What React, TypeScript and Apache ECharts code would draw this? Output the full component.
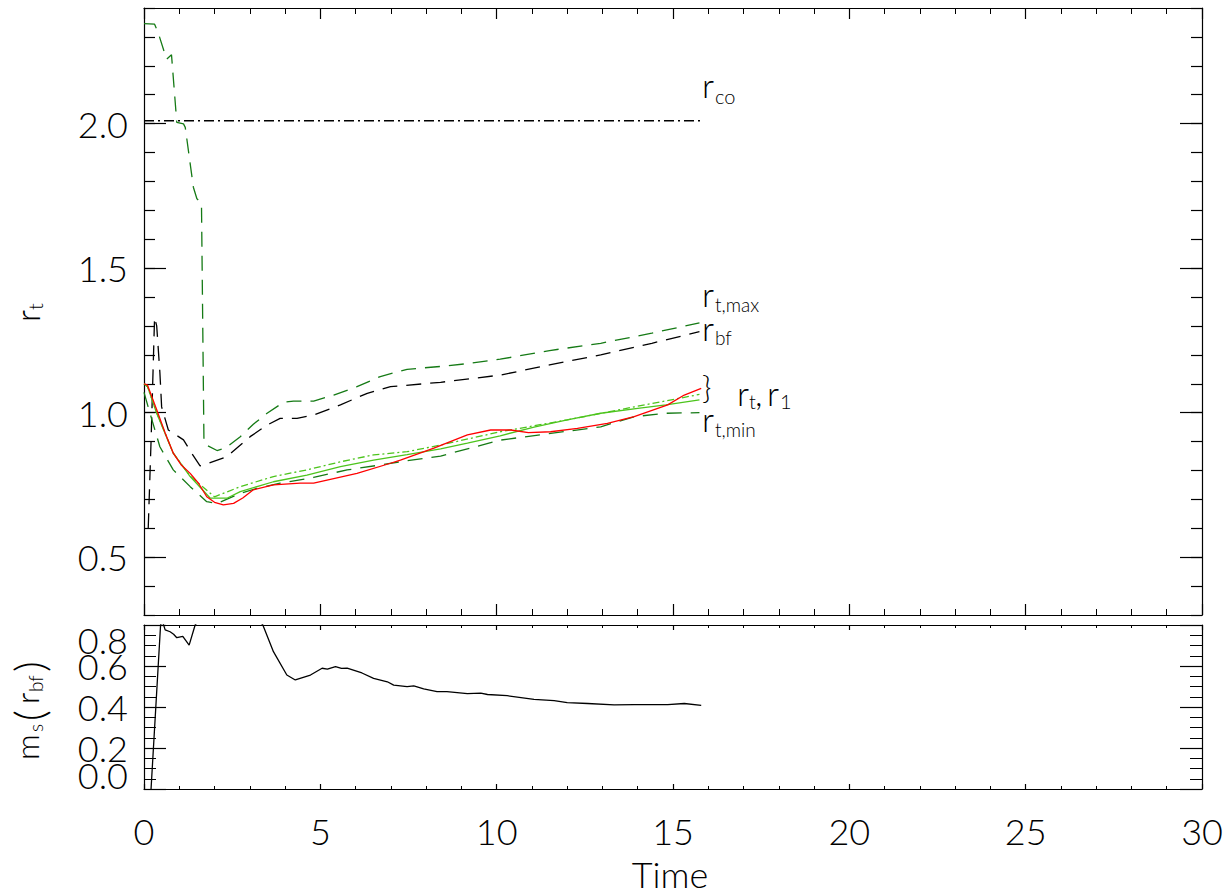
import React, { useEffect, useRef } from 'react';
import * as echarts from 'echarts';

// ---------- data ----------
const xTicks = [0, 5, 10, 15, 20, 25, 30];
const topMajorTicks = [0.5, 1.0, 1.5, 2.0];
const bottomInnerTicks = [0.2, 0.4, 0.6];
const bottomEndTicks = [0, 0.8];

// r_co (black dash-dot)
const tCo = [0, 15.8];
const rCo = [2.01, 2.01];

// r_t,max (dark green dashed)
const tMax = [0, 0.3, 0.4, 0.64, 0.78, 0.93, 1.12, 1.17, 1.4, 1.5, 1.6, 1.63, 1.7, 1.75, 2.07, 2.3, 2.73, 3.1, 3.49, 3.96, 4.24, 4.81, 5.38, 6.04, 6.7, 7.46, 8.41, 9.2, 10.1, 11.5, 12.95, 14.4, 15.75];
const rMax = [2.346, 2.344, 2.315, 2.223, 2.238, 2.004, 1.999, 1.987, 1.78, 1.74, 1.729, 1.72, 0.9, 0.889, 0.869, 0.877, 0.917, 0.96, 0.998, 1.036, 1.04, 1.04, 1.061, 1.09, 1.125, 1.15, 1.16, 1.17, 1.185, 1.215, 1.24, 1.275, 1.311];

// r_bf (black dashed)
const tBf = [0.12, 0.2, 0.3, 0.36, 0.45, 0.5, 0.69, 1.12, 1.35, 1.59, 1.78, 2.35, 3.01, 3.49, 3.86, 4.34, 4.81, 5.57, 6.33, 6.99, 8.41, 10.1, 11.5, 12.95, 14.4, 15.75];
const rBf = [0.6, 0.9, 1.33, 1.3, 1.14, 1.02, 0.94, 0.906, 0.86, 0.816, 0.823, 0.848, 0.917, 0.957, 0.98, 0.98, 0.992, 1.027, 1.067, 1.09, 1.105, 1.13, 1.165, 1.2, 1.24, 1.28];

// r_t,min (dark green dashed)
const tMin = [0, 0.17, 0.45, 0.83, 1.31, 1.78, 2.07, 2.73, 3.2, 3.86, 4.81, 5.76, 6.7, 7.46, 8.41, 10.1, 12.95, 13.9, 14.8, 15.75];
const rMin = [1.07, 0.998, 0.882, 0.802, 0.744, 0.692, 0.686, 0.721, 0.738, 0.756, 0.776, 0.802, 0.819, 0.834, 0.85, 0.905, 0.951, 0.986, 0.998, 1.0];

// r_t (light green solid)
const tRt = [0, 0.1, 0.36, 0.83, 1.31, 1.88, 2.35, 2.73, 3.67, 4.62, 5.57, 6.51, 7.46, 8.41, 9.17, 10.1, 11.06, 12.0, 12.95, 14.0, 14.8, 15.75];
const rRt = [1.1, 1.09, 0.998, 0.86, 0.779, 0.704, 0.704, 0.727, 0.761, 0.784, 0.813, 0.836, 0.855, 0.875, 0.895, 0.92, 0.95, 0.975, 0.998, 1.015, 1.027, 1.044];

// r_1 (light green dash-dot)
const tR1 = [0, 0.1, 0.36, 0.83, 1.31, 2.0, 2.73, 3.67, 4.62, 5.57, 6.51, 7.46, 8.41, 10.1, 12.0, 13.9, 15.75];
const rR1 = [1.1, 1.09, 1.0, 0.86, 0.78, 0.709, 0.744, 0.779, 0.802, 0.83, 0.854, 0.865, 0.888, 0.934, 0.975, 1.02, 1.063];

// red solid
const tRed = [0, 0.1, 0.36, 0.6, 0.83, 1.05, 1.31, 1.55, 1.78, 2.0, 2.25, 2.54, 2.8, 3.1, 3.67, 4.43, 4.81, 5.19, 6.04, 6.99, 7.27, 8.22, 9.17, 9.83, 10.4, 10.9, 11.53, 12.29, 13.14, 13.9, 14.85, 15.32, 15.8];
const rRed = [1.1, 1.095, 1.01, 0.93, 0.86, 0.82, 0.79, 0.755, 0.709, 0.69, 0.681, 0.686, 0.705, 0.733, 0.75, 0.756, 0.756, 0.767, 0.79, 0.825, 0.836, 0.877, 0.923, 0.94, 0.94, 0.931, 0.934, 0.946, 0.963, 0.986, 1.027, 1.061, 1.084];

// m_s(r_bf) (bottom panel)
const tMs = [0.2, 0.47, 0.52, 0.6, 0.74, 0.84, 0.93, 1.1, 1.28, 1.45, 2.4, 3.37, 3.67, 4.05, 4.29, 4.72, 5.05, 5.2, 5.43, 5.6, 5.76, 6.18, 6.51, 6.9, 7.08, 7.46, 7.65, 7.93, 8.31, 8.59, 9.17, 9.55, 9.74, 10.3, 11.06, 11.63, 12.0, 12.58, 13.33, 13.9, 14.85, 15.32, 15.8];
const vMs = [0.0, 0.8, 0.82, 0.776, 0.767, 0.755, 0.738, 0.745, 0.702, 0.8, 1.0, 0.8, 0.67, 0.556, 0.532, 0.556, 0.589, 0.585, 0.597, 0.588, 0.59, 0.566, 0.54, 0.523, 0.507, 0.499, 0.503, 0.488, 0.475, 0.475, 0.465, 0.468, 0.461, 0.455, 0.437, 0.431, 0.421, 0.417, 0.41, 0.412, 0.412, 0.417, 0.408];

// ---------- styling ----------
const FONT = 'Lato';
const FW = 300;
const DARK_GREEN = '#157a15';
const LIGHT_GREEN = '#4cc41c';
const RED = '#ff0000';

const zip = (t: number[], v: number[]) => t.map((x, i) => [x, v[i]]);

const line = (name: string, t: number[], v: number[], color: string, type: any, xi = 0, yi = 0, z = 2) => ({
  name,
  type: 'line',
  xAxisIndex: xi,
  yAxisIndex: yi,
  data: zip(t, v),
  showSymbol: false,
  symbol: 'none',
  silent: true,
  clip: true,
  z,
  lineStyle: { color, width: 1.3, type },
});

const axLine = { show: true, onZero: false, lineStyle: { color: '#000', width: 1.2 } };

const xAx = (grid: number, pos: 'top' | 'bottom', major: number, minor: number, labels: boolean) => ({
  type: 'value',
  gridIndex: grid,
  position: pos,
  min: 0,
  max: 30,
  interval: 5,
  axisLine: axLine,
  axisTick: { show: true, inside: true, length: major, lineStyle: { color: '#000', width: 1.2 } },
  minorTick: { show: true, splitNumber: 5, length: minor, lineStyle: { color: '#000', width: 1 } },
  splitLine: { show: false },
  minorSplitLine: { show: false },
  axisLabel: {
    show: labels,
    customValues: xTicks,
    fontSize: 36,
    fontFamily: FONT,
    fontWeight: FW,
    color: '#000',
    margin: 24,
  },
});

const t = (text: string, x: number, y: number, size: number, extra: any = {}) => ({
  type: 'text',
  x,
  y,
  silent: true,
  style: {
    text,
    fontSize: size,
    fontFamily: FONT,
    fontWeight: FW,
    fill: '#000',
    align: 'left',
    verticalAlign: 'middle',
    ...extra,
  },
});

const labelStyle = { fontSize: 36, fontFamily: FONT, fontWeight: FW, color: '#000' };

const hiddenY = (grid: number, pos: 'left' | 'right', min: number, max: number, extra: any) => ({
  type: 'value', gridIndex: grid, position: pos, min, max,
  axisLine: { show: false, onZero: false },
  splitLine: { show: false },
  axisTick: { show: false },
  axisLabel: { show: false },
  ...extra,
});

const option: any = {
  animation: false,
  backgroundColor: '#fff',
  grid: [
    { left: 144, top: 8, width: 1058, height: 607 },
    { left: 144, top: 625, width: 1058, height: 164 },
    { left: 144, top: 8, width: 1058, height: 607 },
    { left: 144, top: 625, width: 1058, height: 164 },
  ],
  xAxis: [
    xAx(0, 'bottom', 11, 6, false),
    xAx(0, 'top', 11, 6, false),
    xAx(1, 'bottom', 5, 3, true),
    xAx(1, 'top', 5, 3, false),
    { type: 'value', gridIndex: 2, min: 0, max: 30, show: false },
    { type: 'value', gridIndex: 3, min: 0, max: 30, show: false },
  ],
  yAxis: [
    {
      type: 'value', gridIndex: 0, position: 'left', min: 0.3, max: 2.4, interval: 0.1,
      axisLine: axLine,
      axisTick: { show: true, inside: true, length: 11, lineStyle: { color: '#000', width: 1.2 } },
      splitLine: { show: false },
      axisLabel: {
        show: true, customValues: topMajorTicks, formatter: (v: number) => v.toFixed(1),
        ...labelStyle, margin: 16,
      },
    },
    {
      type: 'value', gridIndex: 0, position: 'right', min: 0.3, max: 2.4, interval: 0.1,
      axisLine: axLine,
      axisTick: { show: true, inside: true, length: 11, lineStyle: { color: '#000', width: 1.2 } },
      splitLine: { show: false },
      axisLabel: { show: false },
    },
    {
      type: 'value', gridIndex: 1, position: 'left', min: 0, max: 0.8, interval: 0.2,
      axisLine: axLine,
      axisTick: { show: true, inside: true, length: 22, lineStyle: { color: '#000', width: 1.2 } },
      minorTick: { show: true, splitNumber: 4, length: 12, lineStyle: { color: '#000', width: 1 } },
      splitLine: { show: false },
      minorSplitLine: { show: false },
      axisLabel: {
        show: true,
        customValues: bottomInnerTicks,
        hideOverlap: false,
        formatter: (v: number) => v.toFixed(1),
        ...labelStyle,
        margin: 16,
      },
    },
    {
      type: 'value', gridIndex: 1, position: 'right', min: 0, max: 0.8, interval: 0.2,
      axisLine: axLine,
      axisTick: { show: true, inside: true, length: 22, lineStyle: { color: '#000', width: 1.2 } },
      minorTick: { show: true, splitNumber: 4, length: 12, lineStyle: { color: '#000', width: 1 } },
      splitLine: { show: false },
      axisLabel: { show: false },
    },
    hiddenY(2, 'left', 0.3, 2.4, {
      axisTick: { show: true, inside: true, length: 22, customValues: topMajorTicks, lineStyle: { color: '#000', width: 1.2 } },
    }),
    hiddenY(2, 'right', 0.3, 2.4, {
      axisTick: { show: true, inside: true, length: 22, customValues: topMajorTicks, lineStyle: { color: '#000', width: 1.2 } },
    }),
    hiddenY(3, 'left', 0, 0.8, {
      axisLabel: {
        show: true,
        customValues: bottomEndTicks,
        showMinLabel: true,
        showMaxLabel: true,
        hideOverlap: false,
        formatter: (v: number) => (v < 0.4 ? '{lo|' + v.toFixed(1) + '}' : '{hi|' + v.toFixed(1) + '}'),
        ...labelStyle,
        margin: 16,
        rich: {
          lo: { ...labelStyle, padding: [0, 0, 28, 0] },
          hi: { ...labelStyle, padding: [30, 0, 0, 0] },
        },
      },
    }),
  ],
  series: [
    line('r_co', tCo, rCo, '#000', [10, 4, 2, 4]),
    line('r_t,max', tMax, rMax, DARK_GREEN, [15, 9]),
    line('r_bf', tBf, rBf, '#000', [15, 9]),
    line('r_t,min', tMin, rMin, DARK_GREEN, [15, 9]),
    line('r_1', tR1, rR1, LIGHT_GREEN, [7, 3, 2, 3]),
    line('r_t', tRt, rRt, LIGHT_GREEN, 'solid'),
    line('red', tRed, rRed, RED, 'solid', 0, 0, 3),
    line('m_s', tMs, vMs, '#000', 'solid', 2, 2),
  ],
  graphic: [
    // right-hand labels
    t('r', 702, 84, 34), t('co', 715, 96, 20),
    t('r', 702, 293, 34), t('t,max', 715, 304, 19),
    t('r', 702, 327, 34), t('bf', 715, 337, 19),
    t('}', 702, 386, 32),
    t('r', 737, 392, 34), t('t', 749, 401, 20), t(',', 755, 392, 34), t('r', 767, 392, 34), t('1', 780, 401, 20),
    t('r', 702, 418, 34), t('t,min', 715, 429, 19),
    // x axis title
    t('Time', 670, 874, 36, { align: 'center' }),
    // y axis title (top)
    {
      type: 'group', x: 26, y: 322, rotation: Math.PI / 2,
      children: [t('r', 0, 0, 34), t('t', 12, 9, 20)],
    },
    // y axis title (bottom)
    {
      type: 'group', x: 26, y: 760, rotation: Math.PI / 2,
      children: [
        t('m', 0, 0, 32), t('s', 28, 9, 19), t('(', 39, 3, 42),
        t('r', 56, 0, 32), t('bf', 68, 9, 19), t(')', 88, 3, 42),
      ],
    },
  ],
};

export default function App() {
  const ref = useRef<HTMLDivElement>(null);
  useEffect(() => {
    const chart = echarts.init(ref.current!, null, { renderer: 'svg' });
    chart.setOption(option);
    return () => chart.dispose();
  }, []);
  return (
    <div
      ref={ref}
      style={{ position: 'fixed', left: 0, top: 0, width: 1228, height: 895, background: '#fff' }}
    />
  );
}
